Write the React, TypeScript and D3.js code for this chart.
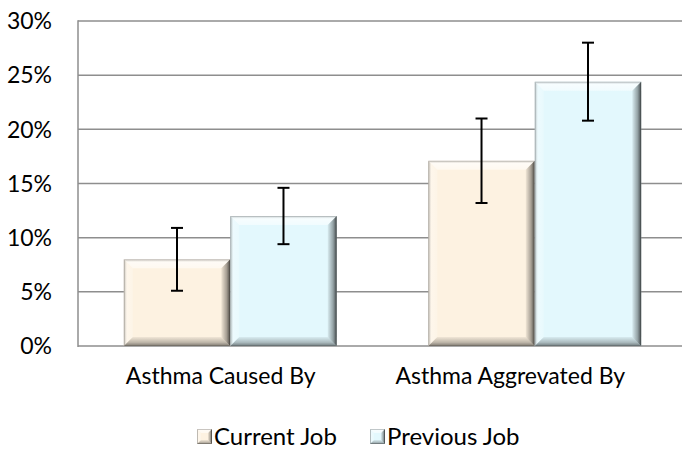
import * as d3 from 'd3';

const categories = ['Asthma Caused By', 'Asthma Aggrevated By'];
const seriesNames = ['Current Job', 'Previous Job'];
const currentJob = [0.08, 0.171];
const previousJob = [0.12, 0.244];
const currentErr = [0.029, 0.039];
const previousErr = [0.026, 0.036];
const yTicks = [0, 0.05, 0.1, 0.15, 0.2, 0.25, 0.3];

const W = 682;
const H = 449;
const FONT = 'Lato, "Open Sans", sans-serif';
const FS = 23;
const fills = ['#fdf2e1', '#e3f8fd'];

function Bevel({ x, y, w, h, fill, b }: { x: number; y: number; w: number; h: number; fill: string; b: number }) {
  const top = `${x},${y} ${x + w},${y} ${x + w - b},${y + b} ${x + b},${y + b}`;
  const left = `${x},${y} ${x + b},${y + b} ${x + b},${y + h - b} ${x},${y + h}`;
  const right = `${x + w},${y} ${x + w},${y + h} ${x + w - b},${y + h - b} ${x + w - b},${y + b}`;
  const bottom = `${x},${y + h} ${x + w},${y + h} ${x + w - b},${y + h - b} ${x + b},${y + h - b}`;
  return (
    <g>
      <rect x={x} y={y} width={w} height={h} fill={fill} />
      <polygon points={top} fill="url(#bvTop)" />
      <polygon points={left} fill="url(#bvLeft)" />
      <polygon points={right} fill="url(#bvRight)" />
      <polygon points={bottom} fill="url(#bvBottom)" />
      <rect x={x + 0.5} y={y + 0.5} width={w - 1} height={h - 1} fill="none" stroke="#000" strokeOpacity={0.12} />
    </g>
  );
}

export default function App() {
  const y = d3.scaleLinear().domain([0, 0.3]).range([346, 21]);
  const x0 = d3.scaleBand<string>().domain(categories).range([78, 687]);
  const x1 = d3.scaleBand<string>().domain(seriesNames).range([0, x0.bandwidth()]).paddingOuter(0.43);
  const xLabel = d3.scaleBand<string>().domain(categories).range([76, 655]);

  const rows = categories.map((c, i) => ({
    cat: c,
    vals: [
      { s: seriesNames[0], v: currentJob[i], e: currentErr[i], fill: fills[0] },
      { s: seriesNames[1], v: previousJob[i], e: previousErr[i], fill: fills[1] },
    ],
  }));

  const legendX = [197, 370];
  const legendY = 429;

  return (
    <svg width={W} height={H} style={{ position: 'absolute', left: 0, top: 0, background: '#fff' }} fontFamily={FONT}>
      <defs>
        <linearGradient id="bvTop" x1="0" y1="0" x2="0" y2="1">
          <stop offset="0" stopColor="#bbb" stopOpacity={0.6} />
          <stop offset="0.3" stopColor="#fff" stopOpacity={0.7} />
          <stop offset="1" stopColor="#fff" stopOpacity={0.5} />
        </linearGradient>
        <linearGradient id="bvLeft" x1="0" y1="0" x2="1" y2="0">
          <stop offset="0" stopColor="#888" stopOpacity={0.55} />
          <stop offset="0.35" stopColor="#fff" stopOpacity={0.35} />
          <stop offset="1" stopColor="#fff" stopOpacity={0.2} />
        </linearGradient>
        <linearGradient id="bvRight" x1="0" y1="0" x2="1" y2="0">
          <stop offset="0" stopColor="#000" stopOpacity={0.05} />
          <stop offset="0.6" stopColor="#000" stopOpacity={0.35} />
          <stop offset="1" stopColor="#000" stopOpacity={0.7} />
        </linearGradient>
        <linearGradient id="bvBottom" x1="0" y1="0" x2="0" y2="1">
          <stop offset="0" stopColor="#000" stopOpacity={0.05} />
          <stop offset="0.6" stopColor="#000" stopOpacity={0.25} />
          <stop offset="1" stopColor="#000" stopOpacity={0.5} />
        </linearGradient>
      </defs>

      {yTicks.slice(1).map((t) => (
        <line key={t} x1={78} x2={W} y1={y(t)} y2={y(t)} stroke="#8e8e8e" strokeWidth={1.5} />
      ))}
      <line x1={78} x2={78} y1={y(0.3) - 0.75} y2={y(0) + 1} stroke="#8e8e8e" strokeWidth={1.5} />
      <line x1={78} x2={W} y1={y(0)} y2={y(0)} stroke="#8e8e8e" strokeWidth={1.5} />

      {yTicks.map((t) => (
        <text key={t} x={52} y={y(t)} dy="0.36em" textAnchor="end" fontSize={FS} fill="#000">
          {d3.format('.0%')(t)}
        </text>
      ))}

      {rows.map((r) => (
        <g key={r.cat}>
          {r.vals.map((d) => {
            const bx = (x0(r.cat) ?? 0) + (x1(d.s) ?? 0);
            const bw = x1.bandwidth();
            const cx = bx + bw / 2;
            return (
              <g key={d.s}>
                <Bevel x={bx} y={y(d.v)} w={bw} h={y(0) - y(d.v)} fill={d.fill} b={9} />
                <line x1={cx} x2={cx} y1={y(d.v + d.e)} y2={y(d.v - d.e)} stroke="#000" strokeWidth={2} />
                <line x1={cx - 6} x2={cx + 6} y1={y(d.v + d.e)} y2={y(d.v + d.e)} stroke="#000" strokeWidth={2} />
                <line x1={cx - 6} x2={cx + 6} y1={y(d.v - d.e)} y2={y(d.v - d.e)} stroke="#000" strokeWidth={2} />
              </g>
            );
          })}
          <text x={(xLabel(r.cat) ?? 0) + xLabel.bandwidth() / 2} y={384} textAnchor="middle" fontSize={FS} fill="#000">
            {r.cat}
          </text>
        </g>
      ))}

      {seriesNames.map((s, i) => (
        <g key={s}>
          <Bevel x={legendX[i]} y={legendY} w={15} h={15} fill={fills[i]} b={4} />
          <text x={legendX[i] + 17} y={legendY + 16} fontSize={24} fill="#000">
            {s}
          </text>
        </g>
      ))}
    </svg>
  );
}
